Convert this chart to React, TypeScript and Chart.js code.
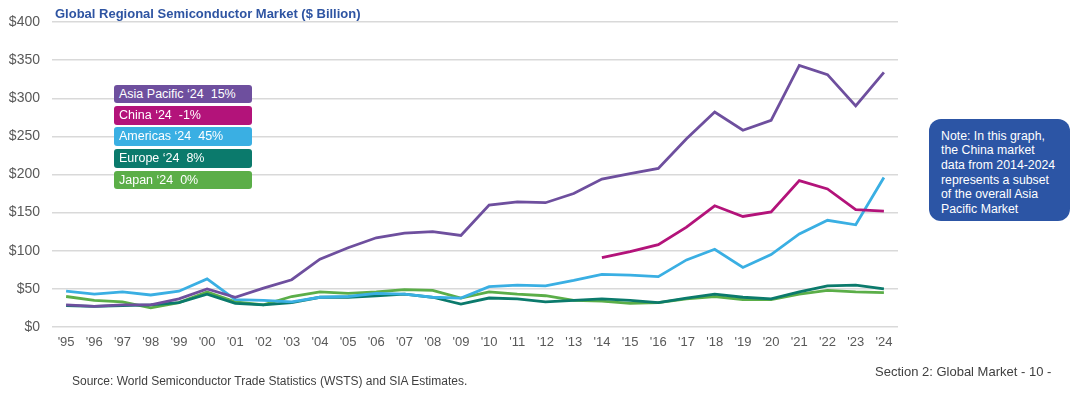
import React, { useEffect, useRef } from "react";
import { Chart, registerables } from "chart.js";

Chart.register(...registerables);

const years: string[] = [
  "'95", "'96", "'97", "'98", "'99", "'00", "'01", "'02", "'03", "'04",
  "'05", "'06", "'07", "'08", "'09", "'10", "'11", "'12", "'13", "'14",
  "'15", "'16", "'17", "'18", "'19", "'20", "'21", "'22", "'23", "'24",
];

const asiaPacific: (number | null)[] = [
  29, 27, 29, 29, 37, 50, 39, 51, 62, 89,
  104, 117, 123, 125, 120, 160, 164, 163, 175, 194,
  201, 208, 247, 282, 258, 271, 343, 331, 290, 334,
];

const china: (number | null)[] = [
  null, null, null, null, null, null, null, null, null, null,
  null, null, null, null, null, null, null, null, null, 91,
  99, 108, 131, 159, 145, 151, 192, 181, 154, 152,
];

const americas: (number | null)[] = [
  47, 43, 46, 42, 47, 63, 36, 35, 33, 39,
  40, 44, 43, 39, 38, 53, 55, 54, 61, 69,
  68, 66, 88, 102, 78, 95, 122, 140, 134, 196,
];

const europe: (number | null)[] = [
  28, 27, 28, 29, 32, 43, 31, 29, 32, 39,
  39, 41, 43, 39, 30, 38, 37, 33, 35, 37,
  35, 32, 38, 43, 39, 37, 46, 54, 55, 50,
];

const japan: (number | null)[] = [
  40, 35, 33, 25, 32, 46, 33, 29, 40, 46,
  44, 46, 49, 48, 38, 46, 43, 41, 35, 34,
  31, 32, 37, 40, 36, 36, 43, 48, 46, 45,
];

const yTicks: number[] = [0, 50, 100, 150, 200, 250, 300, 350, 400];

const seriesNames: string[] = ["Asia Pacific", "China", "Americas", "Europe", "Japan"];
const seriesColors: string[] = ["#6E4F9E", "#B3137A", "#3AAFE3", "#0B7A6C", "#5BAE48"];
const legendLabels: string[] = [
  "Asia Pacific \u201824  15%",
  "China \u201824  -1%",
  "Americas \u201824  45%",
  "Europe \u201824  8%",
  "Japan \u201824  0%",
];

const noteLines: string[] = [
  "Note: In this graph,",
  "the China market",
  "data from 2014-2024",
  "represents a subset",
  "of the overall Asia",
  "Pacific Market",
];

const FONT = "'Liberation Sans', Arial, sans-serif";

export default function App() {
  const canvasRef = useRef<HTMLCanvasElement | null>(null);

  useEffect(() => {
    document.body.style.margin = "0";
    const canvas = canvasRef.current;
    if (!canvas) return;
    const seriesData = [asiaPacific, china, americas, europe, japan];
    const chart = new Chart(canvas, {
      type: "line",
      data: {
        labels: years,
        datasets: seriesData.map((d, i) => ({
          label: seriesNames[i],
          data: d,
          borderColor: seriesColors[i],
          backgroundColor: seriesColors[i],
          borderWidth: 2.8,
          pointRadius: 0,
          tension: 0,
          spanGaps: false,
          fill: false,
        })),
      },
      options: {
        responsive: false,
        animation: false,
        layout: { padding: { top: 22, right: 182, bottom: 41, left: 0 } },
        plugins: {
          legend: { display: false },
          title: { display: false },
          tooltip: { enabled: false },
        },
        scales: {
          x: {
            type: "category",
            offset: true,
            grid: { display: false, drawTicks: false },
            border: { display: false },
            ticks: {
              autoSkip: false,
              maxRotation: 0,
              minRotation: 0,
              padding: 8,
              color: "#595959",
              font: { family: FONT, size: 13 },
            },
            afterFit: (scale: any) => {
              scale.height = 30;
            },
          },
          y: {
            min: yTicks[0],
            max: yTicks[yTicks.length - 1],
            afterBuildTicks: (scale: any) => {
              scale.ticks = yTicks.map((v) => ({ value: v }));
            },
            grid: { color: "#D9D9D9", lineWidth: 1.5, drawTicks: false },
            border: { display: false },
            ticks: {
              padding: 12,
              color: "#595959",
              font: { family: FONT, size: 14 },
              callback: (v: any) => "$" + v,
            },
            afterFit: (scale: any) => {
              scale.width = 52;
            },
          },
        },
      },
    });
    return () => chart.destroy();
  }, []);

  const legendTops = [84.5, 106, 127, 149, 170.5];

  return (
    <div style={{ position: "relative", width: 1080, height: 398, overflow: "hidden", background: "#fff", fontFamily: FONT }}>
      <canvas ref={canvasRef} width={1080} height={398} style={{ display: "block", width: 1080, height: 398 }} />
      <div
        style={{
          position: "absolute", left: 55, top: 6, fontSize: 13, fontWeight: "bold",
          color: "#2E54A2", whiteSpace: "nowrap", lineHeight: "16px",
        }}
      >
        Global Regional Semiconductor Market ($ Billion)
      </div>
      {legendLabels.map((t, i) => (
        <div
          key={t}
          style={{
            position: "absolute", left: 114, top: legendTops[i], width: 138, height: 18.5,
            background: seriesColors[i], borderRadius: 3, color: "#fff", fontSize: 12.5,
            lineHeight: "18.5px", paddingLeft: 5, boxSizing: "border-box", whiteSpace: "pre",
          }}
        >
          {t}
        </div>
      ))}
      <div
        style={{
          position: "absolute", left: 929, top: 119, width: 141, height: 102,
          background: "#2C55A5", borderRadius: 12, color: "#fff", fontSize: 12.3,
          lineHeight: "14.7px", padding: "9.5px 0 0 12px", boxSizing: "border-box",
          whiteSpace: "nowrap",
        }}
      >
        {noteLines.map((l) => (
          <div key={l}>{l}</div>
        ))}
      </div>
      <div
        style={{
          position: "absolute", left: 72, top: 373, fontSize: 12, color: "#404040",
          whiteSpace: "nowrap", lineHeight: "16px",
        }}
      >
        Source: World Semiconductor Trade Statistics (WSTS) and SIA Estimates.
      </div>
      <div
        style={{
          position: "absolute", left: 875, top: 364, fontSize: 13, color: "#404040",
          whiteSpace: "nowrap", lineHeight: "16px",
        }}
      >
        Section 2: Global Market - 10 -
      </div>
    </div>
  );
}
